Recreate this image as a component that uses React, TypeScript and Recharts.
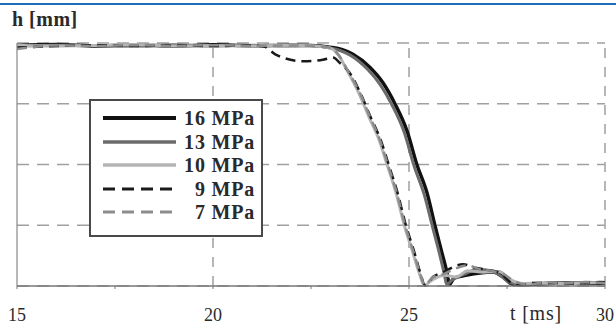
import React from 'react';
import { LineChart, Line, XAxis, YAxis, CartesianGrid, ReferenceLine, Legend } from 'recharts';

// ---- data (t in ms, h in mm) ----
const xTicks = [15, 17.5, 20, 22.5, 25, 27.5, 30];
const yTicks = [0, 2, 4, 6, 8];
const xGridLines = [20, 25, 30];

const t16 = [15, 16, 17, 18, 19, 20, 21, 22, 22.5, 22.98, 23.3, 23.57, 24.0, 24.34, 24.64, 24.95, 25.2, 25.46, 25.66, 25.84, 25.97, 26.03, 26.15, 26.48, 26.81, 27.14, 27.4, 27.65, 28, 28.5, 29, 29.5, 30];
const h16 = [7.92, 7.95, 7.9, 7.93, 7.9, 7.94, 7.91, 7.93, 7.92, 7.86, 7.78, 7.63, 7.2, 6.68, 6.0, 5.1, 4.0, 3.06, 2.0, 1.09, 0.43, 0.05, 0.26, 0.36, 0.43, 0.46, 0.3, 0.05, 0.05, 0.08, 0.1, 0.08, 0.1];

const t13 = [15, 16, 17, 18, 19, 20, 21, 22, 22.5, 22.92, 23.22, 23.5, 23.93, 24.27, 24.57, 24.88, 25.13, 25.39, 25.6, 25.78, 25.9, 25.96, 26.1, 26.4, 26.75, 27.1, 27.35, 27.6, 28, 28.5, 29, 29.5, 30];
const h13 = [7.9, 7.93, 7.92, 7.9, 7.94, 7.9, 7.93, 7.9, 7.92, 7.85, 7.76, 7.6, 7.15, 6.62, 5.95, 5.05, 3.95, 3.0, 1.95, 1.05, 0.4, 0.05, 0.2, 0.38, 0.55, 0.5, 0.32, 0.1, 0.06, 0.1, 0.08, 0.12, 0.1];

const t10 = [15, 16, 17, 18, 19, 20, 21, 22, 22.6, 22.98, 23.2, 23.42, 23.72, 23.98, 24.24, 24.44, 24.67, 24.88, 25.08, 25.26, 25.39, 25.6, 25.9, 26.2, 26.5, 26.9, 27.3, 27.6, 27.9, 28.3, 29, 29.5, 30];
const h10 = [7.93, 7.9, 7.92, 7.95, 7.9, 7.92, 7.9, 7.93, 7.9, 7.84, 7.6, 7.1, 6.35, 5.56, 4.8, 4.0, 3.06, 2.0, 1.18, 0.43, 0.03, 0.2, 0.35, 0.3, 0.5, 0.45, 0.48, 0.2, 0.08, 0.1, 0.08, 0.1, 0.12];

const t9 = [15, 16, 17, 18, 19, 20, 21, 21.3, 21.6, 22.3, 22.8, 23.06, 23.24, 23.49, 23.76, 24.02, 24.28, 24.48, 24.71, 24.92, 25.12, 25.29, 25.41, 25.61, 25.87, 26.12, 26.38, 26.63, 26.99, 27.32, 27.58, 27.83, 28.16, 28.6, 29.2, 29.87, 30];
const h9 = [7.85, 7.9, 7.93, 7.9, 7.92, 7.9, 7.92, 7.88, 7.62, 7.4, 7.45, 7.52, 7.34, 7.01, 6.35, 5.56, 4.8, 4.0, 3.06, 2.0, 1.18, 0.43, 0.02, 0.3, 0.45, 0.62, 0.72, 0.62, 0.53, 0.43, 0.13, 0.03, 0.1, 0.1, 0.08, 0.13, 0.12];

const t7 = [15, 16, 17, 18, 19, 20, 21, 22, 22.6, 23.0, 23.22, 23.45, 23.74, 24.0, 24.26, 24.46, 24.69, 24.9, 25.1, 25.28, 25.4, 25.6, 25.9, 26.2, 26.5, 26.8, 27.1, 27.4, 27.7, 28, 28.5, 29, 29.5, 30];
const h7 = [7.8, 7.92, 7.9, 7.93, 7.9, 7.93, 7.9, 7.92, 7.9, 7.84, 7.58, 7.06, 6.38, 5.58, 4.8, 4.0, 3.06, 2.0, 1.18, 0.43, 0.03, 0.28, 0.4, 0.58, 0.68, 0.55, 0.5, 0.4, 0.15, 0.05, 0.12, 0.1, 0.12, 0.1];

const zip = (t: number[], h: number[]) => t.map((v, i) => ({ t: v, h: h[i] }));

const series = [
  { name: '16 MPa', data: zip(t16, h16), stroke: '#111111', width: 3.5, dash: undefined as string | undefined },
  { name: '13 MPa', data: zip(t13, h13), stroke: '#6b6b6b', width: 3, dash: undefined },
  { name: '10 MPa', data: zip(t10, h10), stroke: '#b4b4b4', width: 3, dash: undefined },
  { name: '9 MPa', data: zip(t9, h9), stroke: '#1a1a1a', width: 2.5, dash: '10 6' },
  { name: '7 MPa', data: zip(t7, h7), stroke: '#8c8c8c', width: 2.5, dash: '10 6' },
];

const FONT = 'Liberation Serif, Tinos, Times New Roman, Times, DejaVu Serif, serif';

const LegendBox = () => (
  <div
    style={{
      width: 170,
      height: 129,
      border: '2px solid #4a4a4a',
      background: '#fff',
      paddingTop: 5,
      boxSizing: 'content-box',
    }}
  >
    {series.map((s) => (
      <div key={s.name} style={{ position: 'relative', height: 23.6 }}>
        <svg width={80} height={24} style={{ position: 'absolute', left: 10, top: 0 }}>
          <line
            x1={2}
            x2={75}
            y1={12}
            y2={12}
            stroke={s.stroke}
            strokeWidth={s.dash ? 3 : s.width + 0.5}
            strokeDasharray={s.dash ? '12 7' : undefined}
          />
        </svg>
        <span
          style={{
            position: 'absolute',
            right: 6,
            top: 1,
            fontFamily: FONT,
            fontWeight: 'bold',
            fontSize: 20,
            lineHeight: '22px',
            color: '#2a2a2a',
            letterSpacing: 0.8,
          }}
        >
          {s.name}
        </span>
      </div>
    ))}
  </div>
);

export default function App() {
  return (
    <div style={{ position: 'absolute', left: 0, top: 0, width: 616, height: 326, background: '#fff', fontFamily: FONT, overflow: 'hidden' }}>
      <div style={{ position: 'absolute', left: 0, top: 3, width: 616, height: 2, background: '#1f6cb8' }} />
      <LineChart width={616} height={326} margin={{ top: 43, right: 11, bottom: 0, left: 0 }}>
        <CartesianGrid horizontal vertical={false} stroke="#a0a0a0" strokeWidth={1.5} strokeDasharray="12 8" />
        {xGridLines.map((x) => (
          <ReferenceLine key={x} x={x} stroke="#a0a0a0" strokeWidth={1.5} strokeDasharray="10 9" />
        ))}
        <XAxis
          type="number"
          dataKey="t"
          domain={[15, 30]}
          ticks={xTicks}
          allowDuplicatedCategory={false}
          tickFormatter={(v: number) => (Number.isInteger(v) ? String(v) : '')}
          height={40}
          tickSize={3}
          tickMargin={19}
          tickLine={{ stroke: '#777' }}
          axisLine={{ stroke: '#777', strokeWidth: 1.5 }}
          tick={{ fill: '#2a2a2a', fontSize: 18, fontFamily: FONT }}
        />
        <YAxis
          type="number"
          dataKey="h"
          domain={[0, 8]}
          ticks={yTicks}
          width={17}
          tickLine={false}
          tickMargin={11}
          axisLine={{ stroke: '#888', strokeWidth: 1.2 }}
          tick={{ fill: '#2a2a2a', fontSize: 18, fontFamily: FONT }}
        />
        <Legend
          layout="horizontal"
          verticalAlign="middle"
          align="center"
          content={() => <LegendBox />}
          wrapperStyle={{ left: 89, top: 99, width: 174, height: 135 }}
        />
        {series.map((s) => (
          <Line
            key={s.name}
            name={s.name}
            data={s.data}
            dataKey="h"
            type="monotone"
            stroke={s.stroke}
            strokeWidth={s.width}
            strokeDasharray={s.dash}
            dot={false}
            activeDot={false}
            isAnimationActive={false}
          />
        ))}
      </LineChart>
      <div style={{ position: 'absolute', left: 12, top: 8, fontFamily: FONT, fontWeight: 'bold', fontSize: 20, color: '#2a2a2a', letterSpacing: 0.5 }}>
        h [mm]
      </div>
      <div style={{ position: 'absolute', left: 510, top: 302, fontFamily: FONT, fontSize: 20, color: '#2a2a2a', letterSpacing: 0.8 }}>
        t [ms]
      </div>
    </div>
  );
}
